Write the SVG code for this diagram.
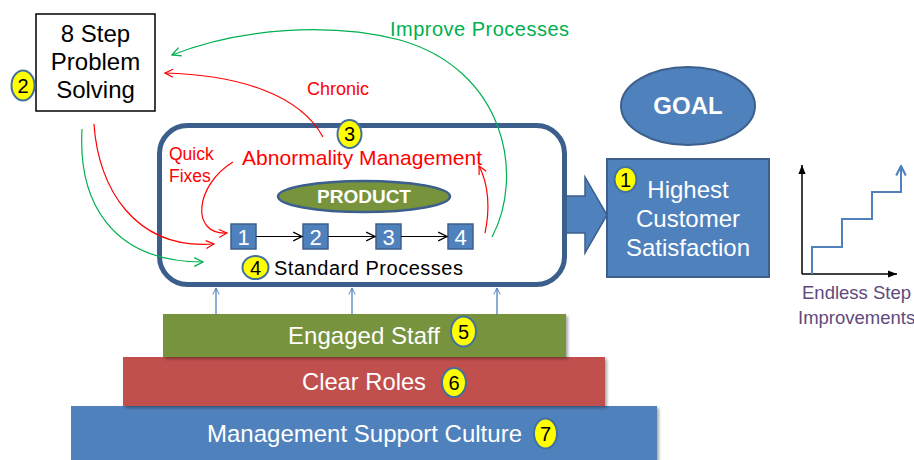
<svg xmlns="http://www.w3.org/2000/svg" width="914" height="460" viewBox="0 0 914 460">
<style>
text{font-family:"Liberation Sans",Arial,sans-serif}
.badge{fill:#ffff00;stroke:#41719c;stroke-width:2}
.bnum{font-size:20px;fill:#000;text-anchor:middle}
.step{fill:#4f81bd;stroke:#3c5f8c;stroke-width:1.5}
.snum{font-size:22px;fill:#fff;text-anchor:middle}
.red{fill:none;stroke:#ff0000;stroke-width:1.2}
.grn{fill:none;stroke:#00b050;stroke-width:1.2}
.blk{fill:none;stroke:#000;stroke-width:1.2}
.blu{fill:none;stroke:#4f81bd;stroke-width:1.3}
.wt{fill:#fff}
</style>
<defs>
<marker id="mr" viewBox="0 0 10 10" refX="9" refY="5" markerWidth="10" markerHeight="10" markerUnits="userSpaceOnUse" orient="auto"><path d="M1,1 L9,5 L1,9" fill="none" stroke="#ff0000" stroke-width="1.2"/></marker>
<marker id="mg" viewBox="0 0 10 10" refX="9" refY="5" markerWidth="11" markerHeight="11" markerUnits="userSpaceOnUse" orient="auto"><path d="M1,1 L9,5 L1,9" fill="none" stroke="#00b050" stroke-width="1.2"/></marker>
<marker id="mk" viewBox="0 0 10 10" refX="9" refY="5" markerWidth="11" markerHeight="11" markerUnits="userSpaceOnUse" orient="auto"><path d="M1,1 L9,5 L1,9" fill="none" stroke="#000" stroke-width="1.2"/></marker>
<marker id="mb" viewBox="0 0 10 10" refX="9" refY="5" markerWidth="8" markerHeight="8" markerUnits="userSpaceOnUse" orient="auto"><path d="M1,1 L9,5 L1,9" fill="none" stroke="#4f81bd" stroke-width="1.2"/></marker>
<marker id="mbb" viewBox="0 0 10 10" refX="9" refY="5" markerWidth="12" markerHeight="12" markerUnits="userSpaceOnUse" orient="auto"><path d="M1,1 L9,5 L1,9" fill="none" stroke="#4f81bd" stroke-width="1.8"/></marker>
<marker id="mt" viewBox="0 0 10 10" refX="10" refY="5" markerWidth="9" markerHeight="9" markerUnits="userSpaceOnUse" orient="auto"><path d="M0,1 L10,5 L0,9 Z" fill="#000"/></marker>
<filter id="sh" x="-5%" y="-20%" width="115%" height="150%"><feDropShadow dx="2" dy="2" stdDeviation="1.5" flood-color="#000" flood-opacity="0.35"/></filter>
</defs>

<g id="bar-management">
<rect x="71" y="406" width="586" height="60" fill="#4f81bd" filter="url(#sh)"/>
<text x="207" y="442" font-size="24" class="wt" textLength="315" lengthAdjust="spacingAndGlyphs">Management Support Culture</text>
<ellipse class="badge" cx="545.5" cy="433.5" rx="11.5" ry="15"/>
<text class="bnum" x="545.5" y="441">7</text>
</g>
<g id="bar-roles">
<rect x="123" y="357" width="482" height="49" fill="#c0504d" filter="url(#sh)"/>
<text x="302" y="390" font-size="24" class="wt" textLength="124" lengthAdjust="spacingAndGlyphs">Clear Roles</text>
<ellipse class="badge" cx="454" cy="382.5" rx="12" ry="14.5"/>
<text class="bnum" x="454" y="390">6</text>
</g>
<g id="bar-staff">
<rect x="163" y="314" width="403" height="43" fill="#77933c" filter="url(#sh)"/>
<text x="288" y="344" font-size="24" class="wt" textLength="152" lengthAdjust="spacingAndGlyphs">Engaged Staff</text>
<ellipse class="badge" cx="463.5" cy="331.5" rx="12.5" ry="15"/>
<text class="bnum" x="463.5" y="339">5</text>
</g>

<g id="big-arrow">
<polygon points="560,196 585,196 585,177 607,215 585,253 585,233 560,233" fill="#4f81bd" stroke="#3c5f8c" stroke-width="1.5"/>
</g>

<g id="process-box">
<rect x="159.5" y="125.5" width="405" height="159" rx="28" ry="28" fill="#fff" stroke="#3b5e8c" stroke-width="5"/>
</g>

<g id="problem-solving">
<rect x="36" y="14" width="119" height="97" fill="#fff" stroke="#000" stroke-width="1.5"/>
<text x="95.5" y="42" font-size="24" text-anchor="middle">8 Step</text>
<text x="95.5" y="70" font-size="24" text-anchor="middle">Problem</text>
<text x="95.5" y="98" font-size="24" text-anchor="middle">Solving</text>
<ellipse class="badge" cx="23" cy="85.5" rx="11.5" ry="15"/>
<text class="bnum" x="23" y="93">2</text>
</g>

<g id="abnormality">
<text x="242" y="165" font-size="21" fill="#ff0000" textLength="240" lengthAdjust="spacing">Abnormality Management</text>
<ellipse class="badge" cx="349.5" cy="134" rx="12" ry="14"/>
<text class="bnum" x="349.5" y="141">3</text>
</g>

<g id="quick-fixes">
<text x="169" y="160" font-size="17.5" fill="#ff0000">Quick</text>
<text x="169" y="182" font-size="17.5" fill="#ff0000">Fixes</text>
</g>

<g id="chronic-label">
<text x="307" y="95" font-size="18" fill="#ff0000">Chronic</text>
</g>

<g id="improve-label">
<text x="390" y="36" font-size="20" fill="#00b050" textLength="179" lengthAdjust="spacing">Improve Processes</text>
</g>

<g id="product">
<ellipse cx="364" cy="196.5" rx="86" ry="15.5" fill="#77933c" stroke="#3c5f8c" stroke-width="2.5"/>
<text x="364" y="203" font-size="19" font-weight="bold" class="wt" text-anchor="middle">PRODUCT</text>
</g>

<g id="step1"><rect class="step" x="231" y="224" width="25" height="25"/><text class="snum" x="243.5" y="245">1</text></g>
<g id="step2"><rect class="step" x="303" y="224" width="25" height="25"/><text class="snum" x="315.5" y="245">2</text></g>
<g id="step3"><rect class="step" x="376" y="224" width="25" height="25"/><text class="snum" x="388.5" y="245">3</text></g>
<g id="step4"><rect class="step" x="448" y="224" width="25" height="25"/><text class="snum" x="460.5" y="245">4</text></g>

<g id="standard-processes">
<ellipse class="badge" cx="255.5" cy="267.5" rx="13" ry="11.5"/>
<text class="bnum" x="255.5" y="274.5">4</text>
<text x="274" y="275" font-size="20" textLength="189" lengthAdjust="spacing">Standard Processes</text>
</g>

<g id="goal">
<ellipse cx="688" cy="106" rx="67" ry="39" fill="#4f81bd" stroke="#3c5f8c" stroke-width="2"/>
<text x="688" y="114" font-size="24" font-weight="bold" class="wt" text-anchor="middle">GOAL</text>
</g>

<g id="customer-satisfaction">
<rect x="607" y="159" width="162" height="118" fill="#4f81bd" stroke="#3c5f8c" stroke-width="2"/>
<text x="688" y="198" font-size="24" class="wt" text-anchor="middle">Highest</text>
<text x="688" y="227" font-size="24" class="wt" text-anchor="middle">Customer</text>
<text x="688" y="256" font-size="24" class="wt" text-anchor="middle">Satisfaction</text>
<ellipse class="badge" cx="625.5" cy="179.5" rx="11" ry="12.5"/>
<text class="bnum" x="625.5" y="186.5" font-size="19">1</text>
</g>

<g id="step-chart">
<line x1="802" y1="274" x2="802" y2="165" stroke="#000" stroke-width="1.5" marker-end="url(#mt)"/>
<line x1="802" y1="274" x2="897" y2="274" stroke="#000" stroke-width="1.5" marker-end="url(#mt)"/>
<polyline points="812,274 812,247 842,247 842,219 872,219 872,192 901,192 901,166" fill="none" stroke="#4f81bd" stroke-width="2" marker-end="url(#mbb)"/>
<text x="802" y="299" font-size="18.5" fill="#604a7b">Endless Step</text>
<text x="798" y="324" font-size="18.5" fill="#604a7b">Improvements</text>
</g>

<g id="connectors">
<path class="grn" d="M492,237 C525,175 505,70 400,40 C330,22 240,28 172,55" marker-end="url(#mg)"/>
<path class="red" d="M323,137 C300,95 240,75 165,73" marker-end="url(#mr)"/>
<path class="red" d="M94,124 C98,188 135,250 214,244" marker-end="url(#mr)"/>
<path class="grn" d="M82,129 C78,200 110,262 203,262" marker-end="url(#mg)"/>
<path class="red" d="M233,162 C195,185 190,235 227,233" marker-end="url(#mr)"/>
<path class="red" d="M485,233 C490,210 489,185 479,166" marker-end="url(#mr)"/>
<line class="blk" x1="256" y1="236.5" x2="302" y2="236.5" marker-end="url(#mk)"/>
<line class="blk" x1="328" y1="236.5" x2="375" y2="236.5" marker-end="url(#mk)"/>
<line class="blk" x1="401" y1="236.5" x2="447" y2="236.5" marker-end="url(#mk)"/>
<line class="blu" x1="216" y1="314" x2="216" y2="288" marker-end="url(#mb)"/>
<line class="blu" x1="352" y1="314" x2="352" y2="288" marker-end="url(#mb)"/>
<line class="blu" x1="497" y1="314" x2="497" y2="288" marker-end="url(#mb)"/>
</g>
</svg>
